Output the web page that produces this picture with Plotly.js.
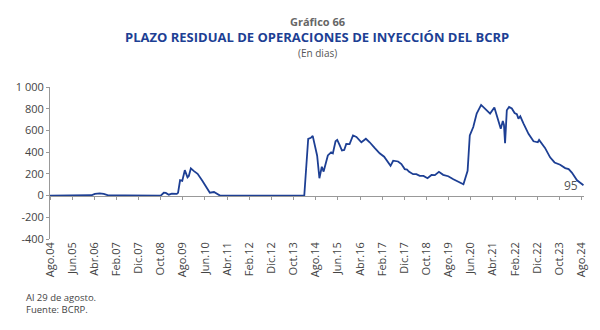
<!DOCTYPE html>
<html>
<head>
<meta charset="utf-8">
<script src="https://cdn.plot.ly/plotly-3.0.1.min.js"></script>
<style>
html,body{margin:0;padding:0;background:#fff;}
#chart{width:600px;height:330px;}
</style>
</head>
<body>
<div id="chart"></div>
<script>
// Plazo residual (días)
const dates = [
 "2004-08-01","2005-06-01","2006-02-20","2006-04-10","2006-06-15","2006-08-10","2006-10-10","2007-06-01","2008-10-01",
 "2008-11-12","2008-12-10","2009-01-20","2009-03-03","2009-05-10","2009-05-27","2009-06-24","2009-07-24","2009-08-28",
 "2009-10-04","2009-10-22","2009-11-19","2010-01-01","2010-02-20","2010-04-28","2010-07-06","2010-08-07","2010-10-03",
 "2010-11-13","2010-12-25","2012-06-01","2014-02-25","2014-04-20","2014-05-27","2014-06-21","2014-07-24","2014-08-21",
 "2014-09-21","2014-10-24","2014-11-18","2015-01-15","2015-03-01","2015-03-25","2015-05-01","2015-05-24","2015-06-25",
 "2015-07-28","2015-08-28","2015-09-25","2015-11-10","2015-12-03","2015-12-27","2016-02-12","2016-04-20","2016-06-21",
 "2016-08-12","2016-10-19","2016-12-27","2017-02-27","2017-04-21","2017-05-26","2017-07-01","2017-09-07","2017-10-22",
 "2017-12-07","2018-01-07","2018-02-01","2018-04-01","2018-05-16","2018-07-01","2018-08-22","2018-10-16","2018-12-10",
 "2019-01-25","2019-03-22","2019-05-19","2019-07-28","2019-10-06","2019-12-13","2020-02-22","2020-04-19","2020-05-19",
 "2020-07-06","2020-08-22","2020-10-22","2020-12-16","2021-02-22","2021-04-22","2021-06-07","2021-07-19","2021-08-16",
 "2021-09-01","2021-09-16","2021-10-10","2021-11-10","2021-12-18","2022-01-25","2022-02-25","2022-03-19","2022-04-13",
 "2022-05-28","2022-08-04","2022-10-12","2022-12-10","2022-12-28","2023-03-19","2023-05-28","2023-07-28","2023-10-13",
 "2023-12-21","2024-02-07","2024-03-22","2024-06-01","2024-08-29"
];
const values = [
 0,2,3,15,20,15,2,1,0,
 26,25,8,17,15,25,141,135,234,
 168,180,250,225,200,135,58,26,33,
 20,0,0,0,523,532,550,450,367,
 160,265,221,370,398,389,500,513,467,
 415,420,476,474,510,553,540,491,523,
 491,439,389,358,305,274,321,314,290,
 244,240,221,197,197,181,181,160,190,
 188,219,191,178,150,128,104,228,553,
 631,755,835,802,755,811,709,616,686,
 650,482,786,817,802,761,750,709,730,
 662,569,500,491,513,439,352,305,284,
 253,244,212,141,95
];
const tickDates = ["2004-08-01","2005-06-01","2006-04-01","2007-02-01","2007-12-01","2008-10-01","2009-08-01","2010-06-01",
 "2011-04-01","2012-02-01","2012-12-01","2013-10-01","2014-08-01","2015-06-01","2016-04-01","2017-02-01","2017-12-01",
 "2018-10-01","2019-08-01","2020-06-01","2021-04-01","2022-02-01","2022-12-01","2023-10-01","2024-08-01"];
const tickLabels = ["Ago.04","Jun.05","Abr.06","Feb.07","Dic.07","Oct.08","Ago.09","Jun.10","Abr.11","Feb.12","Dic.12","Oct.13",
 "Ago.14","Jun.15","Abr.16","Feb.17","Dic.17","Oct.18","Ago.19","Jun.20","Abr.21","Feb.22","Dic.22","Oct.23","Ago.24"];
const yTicks = [-400,-200,0,200,400,600,800,1000];
const yTickLabels = ["-400","-200","0","200","400","600","800","1 000"];

const xRange = ["2004-08-01","2024-09-05"];
const font = "'Open Sans', 'Noto Sans', sans-serif";
const lastIdx = values.length - 1;

const trace = {
  x: dates, y: values, type: "scatter", mode: "lines",
  line: {color: "#1d3f94", width: 1.8},
  hoverinfo: "skip", showlegend: false
};

const layout = {
  width: 600, height: 330,
  margin: {l: 50, r: 16, t: 87, b: 91},
  paper_bgcolor: "#fff", plot_bgcolor: "#fff",
  font: {family: font, color: "#444", size: 11},
  xaxis: {
    type: "date", range: xRange,
    tickmode: "array", tickvals: tickDates, ticktext: tickLabels,
    tickangle: -90, ticks: "", showline: false, showgrid: false, zeroline: false,
    tickfont: {size: 11, color: "#444"}
  },
  xaxis2: {
    type: "date", range: xRange, overlaying: "x", anchor: "free", position: 400/1400,
    side: "bottom", tickmode: "array", tickvals: tickDates, showticklabels: false,
    ticks: "outside", ticklen: 3, tickcolor: "#999", showline: true, linecolor: "#999", linewidth: 1,
    showgrid: false, zeroline: false
  },
  yaxis: {
    range: [-400, 1000], tickmode: "array", tickvals: yTicks, ticktext: yTickLabels,
    ticks: "outside", ticklen: 3, tickcolor: "#999", showline: true, linecolor: "#999", linewidth: 1,
    showgrid: false, zeroline: false, tickfont: {size: 11, color: "#444"}
  },
  annotations: [
    {xref: "paper", yref: "paper", x: 0.5, y: 1, yshift: 87-21, xanchor: "center", yanchor: "middle", borderpad: 0,
     text: "<b>Gráfico 66</b>", showarrow: false, font: {size: 11, color: "#666", family: font}},
    {xref: "paper", yref: "paper", x: 0.5, y: 1, yshift: 87-36.5, xanchor: "center", yanchor: "middle", borderpad: 0,
     text: "<b>PLAZO RESIDUAL DE OPERACIONES DE INYECCIÓN DEL BCRP</b>", showarrow: false,
     font: {size: 13, color: "#1d3f94", family: font}},
    {xref: "paper", yref: "paper", x: 0.5, y: 1, yshift: 87-52.5, xanchor: "center", yanchor: "middle", borderpad: 0,
     text: "(En dias)", showarrow: false, font: {size: 10, color: "#555", family: font}},
    {xref: "x", yref: "y", x: dates[lastIdx], y: values[lastIdx], xanchor: "right", yanchor: "middle",
     xshift: -3, yshift: 0, text: String(values[lastIdx]), showarrow: false, font: {size: 12, color: "#555", family: font}},
    {xref: "paper", yref: "paper", x: 0, y: 0, xshift: -26, yshift: -(297-239), xanchor: "left", yanchor: "middle",
     text: "Al 29 de agosto.", showarrow: false, font: {size: 9.5, color: "#444", family: font}},
    {xref: "paper", yref: "paper", x: 0, y: 0, xshift: -26, yshift: -(309-239), xanchor: "left", yanchor: "middle",
     text: "Fuente: BCRP.", showarrow: false, font: {size: 9.5, color: "#444", family: font}}
  ]
};

Plotly.newPlot("chart", [trace, {x: [dates[0]], y: [0], xaxis: "x2", type: "scatter", mode: "none", showlegend: false, hoverinfo: "skip"}], layout, {staticPlot: true});
</script>
</body>
</html>
